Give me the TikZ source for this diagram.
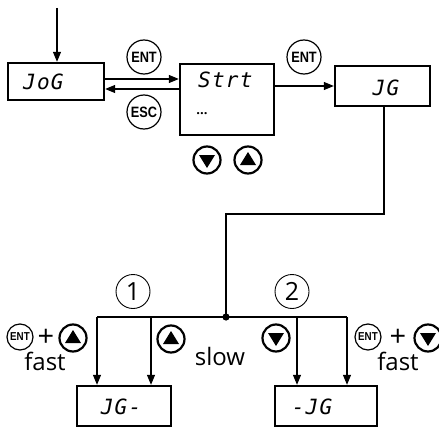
\documentclass[tikz,border=0pt]{standalone}
\usepackage{fontspec}
\setmainfont{Open Sans}
\newfontfamily\entfont[FakeStretch=0.85]{Liberation Sans}
\newfontfamily\segfont[LetterSpace=6]{DejaVu Sans Mono}
\usetikzlibrary{arrows.meta}
\tikzset{
  disp/.style={draw, line width=2.4pt, inner sep=0pt},
  segtxt/.style={inner sep=0pt, font=\segfont\fontsize{21}{21}\selectfont\itshape},
  conn/.style={line width=1.1pt},
  arr/.style={conn, -{Triangle[length=10pt,width=8pt]}},
  keyc/.style={circle, draw, line width=1.2pt, minimum size=34pt, inner sep=0pt, font=\entfont\bfseries\fontsize{15}{15}\selectfont},
  keys/.style={circle, draw, line width=1.2pt, minimum size=26pt, inner sep=0pt, font=\entfont\bfseries\fontsize{11.5}{11.5}\selectfont},
  num/.style={circle, draw, line width=0.9pt, minimum size=34pt, inner sep=0pt, font=\fontsize{25}{25}\selectfont},
  btnbase/.style={circle, draw, line width=2.2pt, minimum size=27pt, inner sep=0pt},
  btnup/.style={btnbase, path picture={
     \fill ([shift={(-8,5)}]path picture bounding box.center) -- ([shift={(8,5)}]path picture bounding box.center) -- ([shift={(0,-8)}]path picture bounding box.center) -- cycle;}},
  btndn/.style={btnbase, path picture={
     \fill ([shift={(-8,-5)}]path picture bounding box.center) -- ([shift={(8,-5)}]path picture bounding box.center) -- ([shift={(0,8)}]path picture bounding box.center) -- cycle;}},
  lbl/.style={inner sep=0pt, anchor=base, text height=16pt, text depth=0pt, font=\fontsize{24}{24}\selectfont},
  plus/.style={inner sep=0pt, anchor=base, text height=17pt, text depth=0pt, font=\fontsize{29}{29}\selectfont},
}
\begin{document}
\begin{tikzpicture}[x=1pt,y=-1pt]
\useasboundingbox (0,0) rectangle (439,428);

% display boxes
\node[disp, minimum width=96pt, minimum height=37pt] (jog) at (56,81.5) {};
\node[segtxt, anchor=west] (jogt) at (23,81.5) {JoG};
\node[disp, minimum width=94pt, minimum height=71pt] (strt) at (227,99.5) {};
\node[segtxt, anchor=west] (strtt) at (198,80) {Strt};
\node[inner sep=0pt, font=\bfseries\fontsize{13}{13}\selectfont] (dots) at (202,114) {...};
\node[disp, minimum width=95pt, minimum height=40pt] (jg) at (382.5,86) {};
\node[segtxt] (jgt) at (386,88) {JG};
\node[disp, minimum width=94pt, minimum height=40pt] (jgm) at (124,406) {};
\node[segtxt] (jgmt) at (121,407) {JG-};
\node[disp, minimum width=102pt, minimum height=40pt] (mjg) at (326,406) {};
\node[segtxt] (mjgt) at (312,407) {-JG};

% incoming arrow
\coordinate (top) at (57,8);
\draw[arr] (top) -- (top |- jog.north);

% JoG <-> Strt
\draw[arr] (jog.east |- {(0,79)}) -- (strt.west |- {(0,79)});
\draw[arr] (strt.west |- {(0,89)}) -- (jog.east |- {(0,89)});
\node[keyc] (ent1) at (144,57) {ENT};
\node[keyc] (esc1) at (144,112) {ESC};

% Strt -> JG
\draw[arr] (strt.east |- {(0,86)}) -- (jg.west |- {(0,86)});
\node[keyc] (ent2) at (304,57) {ENT};

% buttons below Strt
\node[btndn] (dn0) at (207,160) {};
\node[btnup] (up0) at (248,160) {};

% line from JG to junction
\coordinate (j) at (226,317);
\draw[conn] (jg.south -| {(384,0)}) -- (384,214) -| (j);
\fill (j) circle (3.6pt);

% horizontal distribution line
\coordinate (a1) at (97,317);
\coordinate (a2) at (151,317);
\coordinate (a3) at (297,317);
\coordinate (a4) at (347,317);
\draw[conn] (a1) -- (a4);
\draw[arr] (a1) -- (a1 |- jgm.north);
\draw[arr] (a2) -- (a2 |- jgm.north);
\draw[arr] (a3) -- (a3 |- mjg.north);
\draw[arr] (a4) -- (a4 |- mjg.north);

% numbered circles
\node[num] (n1) at (133,291.5) {1};
\node[num] (n2) at (292,291.5) {2};

% key combos and labels
\node[keys] (ent3) at (20,337) {ENT};
\node[plus] (plus1) at (46,346) {+};
\node[btnup] (up1) at (73,338) {};
\node[lbl] (fast1) at (45,370) {fast};
\node[btnup] (up2) at (171,339) {};
\node[lbl] (slow) at (220,365) {slow};
\node[btndn] (dn2) at (276,338) {};
\node[keys] (ent4) at (368,337) {ENT};
\node[plus] (plus2) at (398,346) {+};
\node[btndn] (dn3) at (428,338) {};
\node[lbl] (fast2) at (398,370) {fast};
\end{tikzpicture}
\end{document}
